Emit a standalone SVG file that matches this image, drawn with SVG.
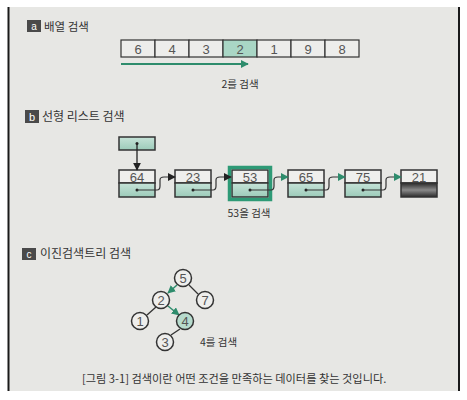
<svg xmlns="http://www.w3.org/2000/svg" width="467" height="400" viewBox="0 0 467 400">
<defs>
<style>
text{font-family:"Liberation Sans","Noto Sans CJK KR",sans-serif;fill:#333}
.k{font-family:"Noto Sans CJK KR",sans-serif}
.cell{fill:#ededeb;stroke:#333;stroke-width:1.2}
.up{fill:#efefed;stroke:#333;stroke-width:1.5}
.lo{fill:url(#tg);stroke:#333;stroke-width:1.5}
.dot{fill:#222}
.lnk{fill:none;stroke:#333;stroke-width:1.2}
.circ{fill:#eeeeec;stroke:#333;stroke-width:1.5}
.edge{stroke:#333;stroke-width:1.3}
.tedge{stroke:#2e8c6c;stroke-width:1.5}
.icon{fill:#4a4a4a}
.num{font-size:13px;text-anchor:middle;fill:#555}
</style>
<linearGradient id="tg" x1="0" y1="0" x2="0" y2="1"><stop offset="0" stop-color="#c6e3d8"/><stop offset="1" stop-color="#9ccbb9"/></linearGradient>
<linearGradient id="dg" x1="0" y1="0" x2="0" y2="1"><stop offset="0" stop-color="#2a2a2a"/><stop offset="0.5" stop-color="#8a8a8a"/><stop offset="1" stop-color="#2a2a2a"/></linearGradient>
<marker id="ab" viewBox="0 0 10 10" refX="9" refY="5" markerWidth="8" markerHeight="8" orient="auto" markerUnits="userSpaceOnUse"><path d="M0,0L10,5L0,10z" fill="#222"/></marker>
<marker id="at" viewBox="0 0 10 10" refX="9" refY="5" markerWidth="8" markerHeight="8" orient="auto" markerUnits="userSpaceOnUse"><path d="M0,0L10,5L0,10z" fill="#2e8c6c"/></marker>
<marker id="at2" viewBox="0 0 10 10" refX="9" refY="5" markerWidth="8" markerHeight="8" orient="auto" markerUnits="userSpaceOnUse"><path d="M0,0L10,5L0,10z" fill="#2e8c6c"/></marker>
</defs>
<rect width="467" height="400" fill="#ffffff"/>
<rect x="8" y="7" width="451" height="384" fill="#e7e7e4"/>
<line x1="8.5" y1="7" x2="8.5" y2="391" stroke="#1a1a1a" stroke-width="2"/>
<line x1="459" y1="7" x2="459" y2="391" stroke="#1a1a1a" stroke-width="2"/>

<g id="label-a"><rect class="icon" x="27" y="20" width="14" height="12"/><text x="34" y="30" font-size="10" text-anchor="middle" style="fill:#fff">a</text><text class="k" x="44" y="31" font-size="11.5">배열 검색</text></g>

<g id="array">
<rect class="cell" x="121" y="40" width="34" height="17"/>
<rect class="cell" x="155" y="40" width="34" height="17"/>
<rect class="cell" x="189" y="40" width="34" height="17"/>
<rect class="cell" x="223" y="40" width="34" height="17" style="fill:#a9d6c5"/>
<rect class="cell" x="257" y="40" width="34" height="17"/>
<rect class="cell" x="291" y="40" width="34" height="17"/>
<rect class="cell" x="325" y="40" width="34" height="17"/>
<text class="num" x="138" y="53.5">6</text><text class="num" x="172" y="53.5">4</text><text class="num" x="206" y="53.5">3</text><text class="num" x="240" y="53.5">2</text><text class="num" x="274" y="53.5">1</text><text class="num" x="308" y="53.5">9</text><text class="num" x="342" y="53.5">8</text>
<line x1="121" y1="64" x2="248" y2="64" stroke="#2e8c6c" stroke-width="2" marker-end="url(#at2)"/>
<text class="k" x="240" y="88" font-size="10.5" text-anchor="middle">2를 검색</text>
</g>

<g id="label-b"><rect class="icon" x="25" y="110" width="14" height="13"/><text x="32" y="120.5" font-size="11" text-anchor="middle" style="fill:#fff">b</text><text class="k" x="42" y="121" font-size="12">선형 리스트 검색</text></g>

<g id="head"><rect x="119" y="137" width="36" height="13" fill="url(#tg)" stroke="#333" stroke-width="1.5"/><circle class="dot" cx="137" cy="143.5" r="1.5"/></g>
<g id="n64"><rect class="up" x="119" y="170" width="36" height="13"/><rect class="lo" x="119" y="183" width="36" height="14"/><circle class="dot" cx="137" cy="190" r="1.5"/><text class="num" x="137" y="181.5">64</text></g>
<g id="n23"><rect class="up" x="175" y="170" width="36" height="13"/><rect class="lo" x="175" y="183" width="36" height="14"/><circle class="dot" cx="193" cy="190" r="1.5"/><text class="num" x="193" y="181.5">23</text></g>
<g id="n53"><rect class="up" x="232" y="170" width="36" height="13"/><rect class="lo" x="232" y="183" width="36" height="14"/><circle class="dot" cx="250" cy="190" r="1.5"/><text class="num" x="250" y="181.5">53</text><rect x="229.5" y="167.5" width="41" height="32" fill="none" stroke="#2e9a76" stroke-width="3.5"/></g>
<g id="n65"><rect class="up" x="288" y="170" width="36" height="13"/><rect class="lo" x="288" y="183" width="36" height="14"/><circle class="dot" cx="306" cy="190" r="1.5"/><text class="num" x="306" y="181.5">65</text></g>
<g id="n75"><rect class="up" x="345" y="170" width="36" height="13"/><rect class="lo" x="345" y="183" width="36" height="14"/><circle class="dot" cx="363" cy="190" r="1.5"/><text class="num" x="363" y="181.5">75</text></g>
<g id="n21"><rect class="up" x="401" y="170" width="36" height="13"/><rect x="401" y="183" width="36" height="14" fill="url(#dg)" stroke="#333" stroke-width="1.5"/><text class="num" x="419" y="181.5">21</text></g>

<g id="connectors">
<line x1="137" y1="143.5" x2="137" y2="170" stroke="#222" stroke-width="1.3" marker-end="url(#ab)"/>
<path class="lnk" d="M137 190H157Q160 190 160 186V180Q160 177 164 177H175" marker-end="url(#ab)"/>
<path class="lnk" d="M193 190H213Q216 190 216 186V180Q216 177 220 177H231" marker-end="url(#ab)"/>
<path class="lnk" d="M250 190H271Q274 190 274 186V180Q274 177 278 177H288" marker-end="url(#at)"/>
<path class="lnk" d="M306 190H326Q329 190 329 186V180Q329 177 333 177H345" marker-end="url(#at)"/>
<path class="lnk" d="M363 190H383Q386 190 386 186V180Q386 177 390 177H401" marker-end="url(#at)"/>
<line class="edge" x1="189" y1="285" x2="198" y2="294"/>
<line class="edge" x1="156" y1="307" x2="147" y2="315"/>
<line class="edge" x1="180" y1="329" x2="171" y2="335"/>
<line class="tedge" x1="177" y1="285" x2="168" y2="293" marker-end="url(#at)"/>
<line class="tedge" x1="168" y1="306" x2="179" y2="315" marker-end="url(#at)"/>
</g>

<g id="cap-b"><text class="k" x="249" y="217" font-size="10.5" text-anchor="middle">53을 검색</text></g>

<g id="label-c"><rect class="icon" x="22" y="248" width="14" height="12"/><text x="29" y="258" font-size="10" text-anchor="middle" style="fill:#fff">c</text><text class="k" x="40" y="258" font-size="12">이진검색트리 검색</text></g>

<g id="t5"><circle class="circ" cx="183" cy="278" r="8.5"/><text class="num" x="183" y="282.5">5</text></g>
<g id="t2"><circle class="circ" cx="161" cy="300" r="8.5"/><text class="num" x="161" y="304.5">2</text></g>
<g id="t7"><circle class="circ" cx="205" cy="300" r="8.5"/><text class="num" x="205" y="304.5">7</text></g>
<g id="t1"><circle class="circ" cx="140" cy="321" r="8.5"/><text class="num" x="140" y="325.5">1</text></g>
<g id="t4"><circle class="circ" cx="185" cy="321" r="8.5" style="fill:#b7dbcd"/><text class="num" x="185" y="325.5">4</text></g>
<g id="t3"><circle class="circ" cx="165" cy="342" r="8.5"/><text class="num" x="165" y="346.5">3</text></g>
<g id="cap-c"><text class="k" x="200" y="346" font-size="10.5">4를 검색</text></g>

<g id="caption"><text class="k" x="82" y="383" font-size="11.2">[그림 3-1] 검색이란 어떤 조건을 만족하는 데이터를 찾는 것입니다.</text></g>
</svg>
